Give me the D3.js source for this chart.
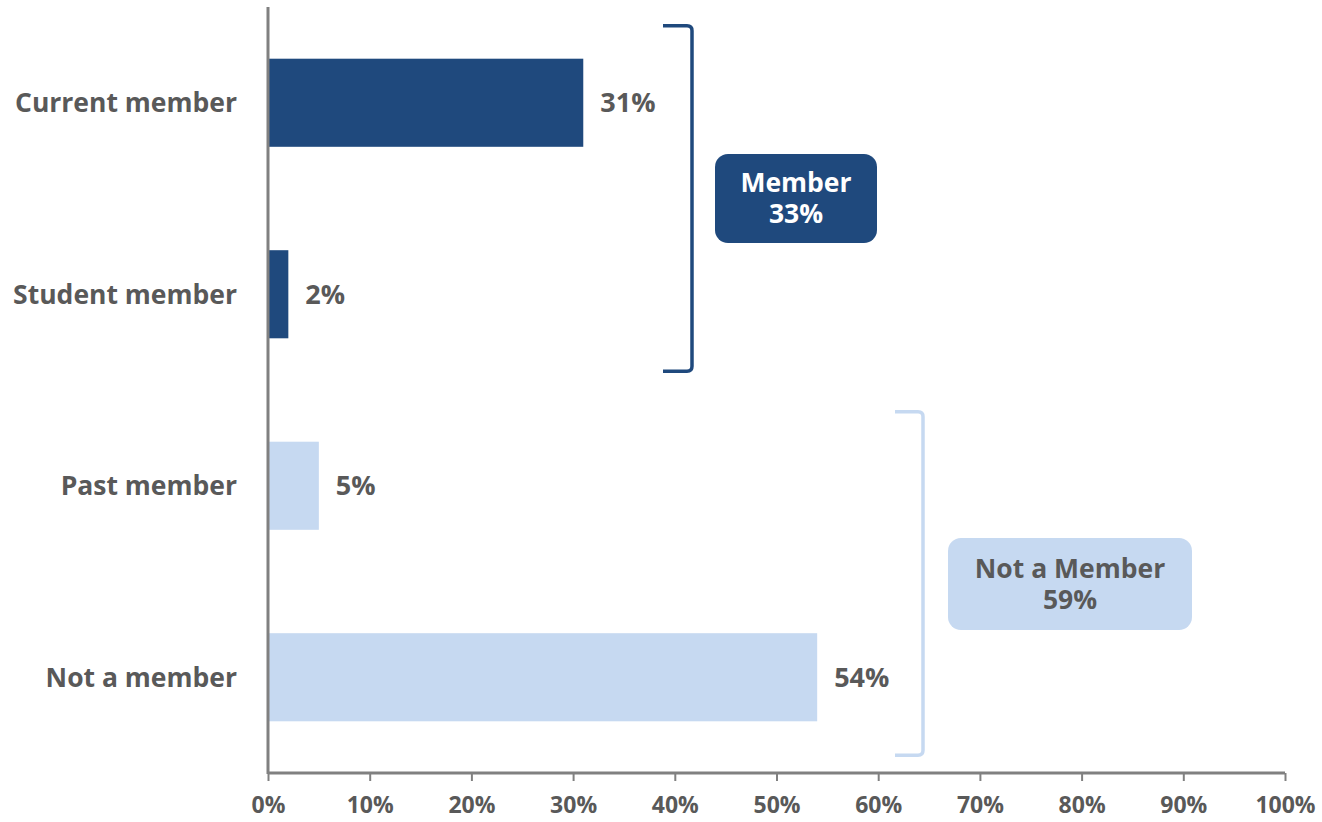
<!DOCTYPE html>
<html>
<head>
<meta charset="utf-8">
<script src="https://cdn.jsdelivr.net/npm/d3@7/dist/d3.min.js"></script>
<style>
  html, body { margin: 0; padding: 0; background: #ffffff; }
  svg { display: block; font-family: "Open Sans", "Noto Sans", sans-serif; font-weight: 700; }
</style>
</head>
<body>
<svg id="chart" width="1322" height="822"></svg>
<script>
// Membership status categories and shares (percent)
const categories = ["Current member", "Student member", "Past member", "Not a member"];
const values = [31, 2, 5, 54];
const groupOf = ["member", "member", "non", "non"];

// Group summaries shown beside the brackets
const groupNames = ["Member", "Not a Member"];
const groupTotals = [33, 59];
const groupMembers = [["Current member", "Student member"], ["Past member", "Not a member"]];

// Axis ticks
const tickValues = [0, 10, 20, 30, 40, 50, 60, 70, 80, 90, 100];

const colors = { member: "#1F497D", non: "#C6D9F1" };
const textGray = "#595959";
const axisGray = "#808080";

const svg = d3.select("#chart");
const plotLeft = 268, plotRight = 1285, plotTop = 7, plotBottom = 773;

const x = d3.scaleLinear().domain([0, 100]).range([plotLeft, plotRight]);
const y = d3.scaleBand().domain(categories).range([plotTop, plotBottom])
  .paddingInner(0.54).paddingOuter(0.27);

// Bars
svg.append("g").selectAll("rect")
  .data(categories)
  .join("rect")
  .attr("x", x(0))
  .attr("y", d => y(d))
  .attr("width", (d, i) => x(values[i]) - x(0))
  .attr("height", y.bandwidth())
  .attr("fill", (d, i) => colors[groupOf[i]]);

// Value labels
svg.append("g").selectAll("text")
  .data(categories)
  .join("text")
  .attr("x", (d, i) => x(values[i]) + 17)
  .attr("y", d => y(d) + y.bandwidth() / 2)
  .attr("dy", "0.36em")
  .attr("fill", textGray)
  .attr("font-size", 27)
  .text((d, i) => values[i] + "%");

// Category labels
svg.append("g").selectAll("text")
  .data(categories)
  .join("text")
  .attr("x", plotLeft - 31)
  .attr("y", d => y(d) + y.bandwidth() / 2)
  .attr("dy", "0.36em")
  .attr("text-anchor", "end")
  .attr("fill", textGray)
  .attr("font-size", 26.5)
  .text(d => d);

// X axis
const xAxis = d3.axisBottom(x)
  .tickValues(tickValues)
  .tickSize(8)
  .tickFormat(d => d + "%");
const gx = svg.append("g")
  .attr("transform", `translate(0,${plotBottom})`)
  .call(xAxis);
gx.select(".domain").attr("stroke", axisGray).attr("stroke-width", 3)
  .attr("d", `M${plotLeft},0H${plotRight}`);
gx.selectAll(".tick line").attr("stroke", axisGray).attr("stroke-width", 2);
gx.selectAll(".tick text")
  .attr("fill", textGray)
  .attr("font-size", 23)
  .attr("font-weight", 700)
  .attr("font-family", "'Open Sans', 'Noto Sans', sans-serif")
  .attr("y", 24)
  .attr("dy", "0.71em");

// Y axis line
svg.append("line")
  .attr("x1", plotLeft).attr("x2", plotLeft)
  .attr("y1", plotTop).attr("y2", plotBottom + 1)
  .attr("stroke", axisGray).attr("stroke-width", 3);

// Group brackets with summary boxes
const brackets = [
  { x0: 663, x1: 692, yTop: y(groupMembers[0][0]) - 33, yBot: y(groupMembers[0][1]) + y.bandwidth() + 33,
    color: colors.member, box: { x: 715, y: 154, w: 162, h: 89 }, text: "#ffffff" },
  { x0: 895, x1: 923, yTop: y(groupMembers[1][0]) - 30, yBot: y(groupMembers[1][1]) + y.bandwidth() + 34,
    color: colors.non, box: { x: 948, y: 538, w: 244, h: 92 }, text: textGray }
];

brackets.forEach((b, i) => {
  const r = 5;
  svg.append("path")
    .attr("d", `M${b.x0},${b.yTop}H${b.x1 - r}Q${b.x1},${b.yTop} ${b.x1},${b.yTop + r}` +
               `V${b.yBot - r}Q${b.x1},${b.yBot} ${b.x1 - r},${b.yBot}H${b.x0}`)
    .attr("fill", "none")
    .attr("stroke", b.color)
    .attr("stroke-width", 3.5);

  svg.append("rect")
    .attr("x", b.box.x).attr("y", b.box.y)
    .attr("width", b.box.w).attr("height", b.box.h)
    .attr("rx", 13).attr("ry", 13)
    .attr("fill", b.color);

  const cx = b.box.x + b.box.w / 2;
  const cy = b.box.y + b.box.h / 2;
  const t = svg.append("text")
    .attr("text-anchor", "middle")
    .attr("fill", b.text)
    .attr("font-size", 26.5);
  t.append("tspan").attr("x", cx).attr("y", cy - 16).attr("dy", "0.36em").text(groupNames[i]);
  t.append("tspan").attr("x", cx).attr("y", cy + 15).attr("dy", "0.36em").text(groupTotals[i] + "%");
});
</script>
</body>
</html>
